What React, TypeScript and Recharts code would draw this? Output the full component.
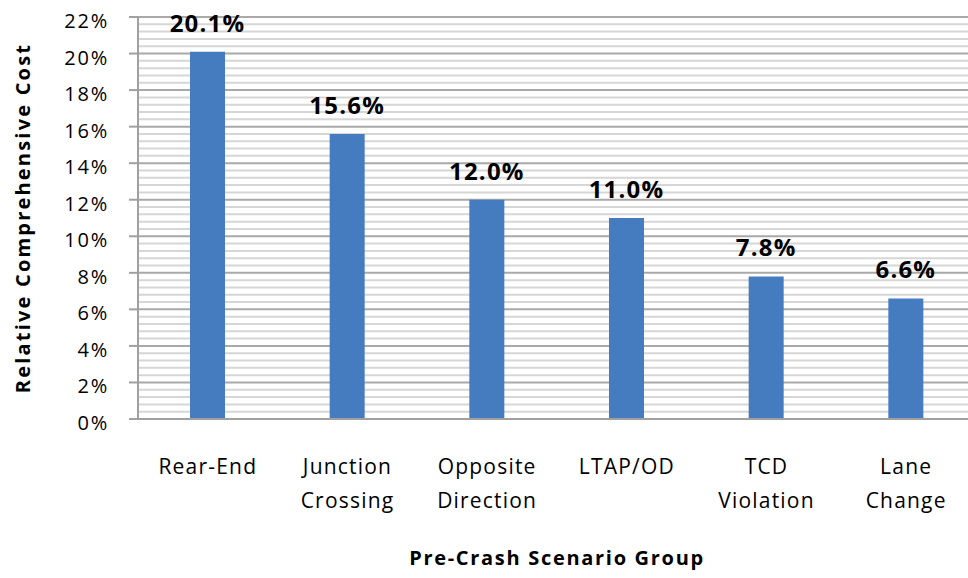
import React from 'react';
import { BarChart, Bar, XAxis, YAxis, CartesianGrid, LabelList, Label, ReferenceLine } from 'recharts';

const categories = ['Rear-End', 'Junction\nCrossing', 'Opposite\nDirection', 'LTAP/OD', 'TCD\nViolation', 'Lane\nChange'];
const costShare = [20.1, 15.6, 12.0, 11.0, 7.8, 6.6];
const majorTicks = [0, 2, 4, 6, 8, 10, 12, 14, 16, 18, 20, 22];
// minor gridlines every 0.4%, skipping the ones on a major tick
const minorTicks = Array.from({ length: 56 }, (_, i) => Math.round(i * 4) / 10).filter((_, i) => i % 5 !== 0);

const data = categories.map((name, i) => ({ name, value: costShare[i] }));

const FONT = '"Open Sans", sans-serif';

const CategoryTick = (props: any) => {
  const { x, y, payload } = props;
  const lines = String(payload.value).split('\n');
  return (
    <g>
      {lines.map((ln, i) => (
        <text key={i} x={x} y={y + 47 + i * 34} textAnchor="middle" fill="#000" fontSize={21} fontFamily={FONT} letterSpacing={1.2}>
          {ln}
        </text>
      ))}
    </g>
  );
};

const PercentTick = (props: any) => {
  const { x, y, payload } = props;
  return (
    <text x={x} y={y + 11} textAnchor="end" fill="#000" fontSize={20} fontFamily={FONT} letterSpacing={1.8}>
      {`${payload.value}%`}
    </text>
  );
};

const ValueLabel = (props: any) => {
  const { x, y, width, value } = props;
  return (
    <text x={x + width / 2} y={y - 20} textAnchor="middle" fill="#000" fontSize={24} fontWeight={700} fontFamily={FONT} letterSpacing={1.2}>
      {`${Number(value).toFixed(1)}%`}
    </text>
  );
};

const YTitle = (props: any) => {
  const { viewBox } = props;
  const cx = viewBox.x + 22;
  const cy = viewBox.y + viewBox.height / 2;
  return (
    <text x={cx} y={cy} transform={`rotate(-90, ${cx}, ${cy})`} textAnchor="middle" dominantBaseline="central" fill="#000" fontSize={20} fontWeight={700} fontFamily={FONT} letterSpacing={2.2}>
      Relative Comprehensive Cost
    </text>
  );
};

const XTitle = (props: any) => {
  const { viewBox } = props;
  return (
    <text x={viewBox.x + viewBox.width / 2} y={viewBox.y + 146} textAnchor="middle" fill="#000" fontSize={20} fontWeight={700} fontFamily={FONT} letterSpacing={1.7}>
      Pre-Crash Scenario  Group
    </text>
  );
};

export default function App() {
  return (
    <div style={{ position: 'absolute', left: 0, top: 0, width: 968, height: 578, overflow: 'hidden', background: '#fff' }}>
      <BarChart width={990} height={578} data={data} margin={{ top: 17, right: 14, bottom: 18, left: 0 }}>
        <CartesianGrid vertical={false} stroke="#a9a9a9" strokeWidth={2} />
        {minorTicks.map((v) => (
          <ReferenceLine key={v} y={v} stroke="#d6d6d6" strokeWidth={2} zIndex={-50} />
        ))}
        <XAxis dataKey="name" height={141} tick={<CategoryTick />} tickLine={false} axisLine={{ stroke: '#a0a0a0', strokeWidth: 2 }} interval={0}>
          <Label content={<XTitle />} />
        </XAxis>
        <YAxis width={138} domain={[0, 22]} ticks={majorTicks} tick={<PercentTick />} tickSize={9} tickMargin={20} tickLine={{ stroke: '#a0a0a0', strokeWidth: 2 }} axisLine={{ stroke: '#a0a0a0', strokeWidth: 2 }}>
          <Label content={<YTitle />} />
        </YAxis>
        <Bar dataKey="value" fill="#447cbf" barSize={35} isAnimationActive={false}>
          <LabelList dataKey="value" content={<ValueLabel />} />
        </Bar>
      </BarChart>
    </div>
  );
}
